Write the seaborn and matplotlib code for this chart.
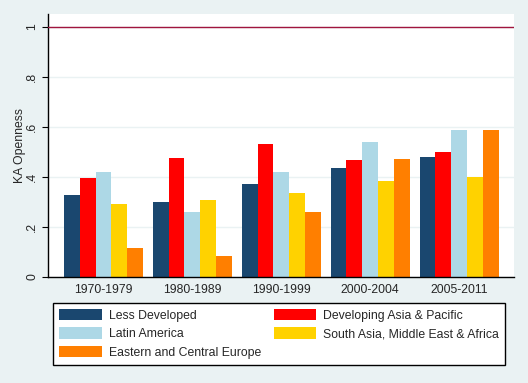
import matplotlib
matplotlib.use("Agg")
import matplotlib.pyplot as plt
import seaborn as sns
import pandas as pd
from matplotlib.patches import Patch

periods = ["1970-1979", "1980-1989", "1990-1999", "2000-2004", "2005-2011"]
regions = ["Less Developed", "Developing Asia & Pacific", "Latin America",
           "South Asia, Middle East & Africa", "Eastern and Central Europe"]
less_developed = [0.328, 0.300, 0.372, 0.436, 0.480]
developing_asia = [0.396, 0.476, 0.532, 0.468, 0.500]
latin_america = [0.420, 0.260, 0.420, 0.540, 0.588]
south_asia = [0.292, 0.308, 0.336, 0.384, 0.400]
eastern_europe = [0.116, 0.084, 0.260, 0.472, 0.588]
colors = ["#1A476F", "#FF0000", "#ADD8E6", "#FFD200", "#FF7F00"]

series = [less_developed, developing_asia, latin_america, south_asia, eastern_europe]
rows = []
for reg, vals in zip(regions, series):
    for p, v in zip(periods, vals):
        rows.append({"period": p, "region": reg, "value": v})
df = pd.DataFrame(rows)

sns.set_style("white")
plt.rcParams["font.family"] = ["Liberation Sans", "DejaVu Sans"]
bg = "#EAF2F3"
fig = plt.figure(figsize=(5.28, 3.83), dpi=100, facecolor=bg)
ax = fig.add_axes([48/528, 1-277/383, 466/528, 263/383])
ax.set_facecolor("white")

sns.barplot(data=df, x="period", y="value", hue="region", order=periods,
            hue_order=regions, palette=colors, saturation=1, width=0.888,
            ax=ax, legend=False, errorbar=None, linewidth=0, edgecolor="none")

ax.set_ylim(0, 1.052)
ax.set_xlim(-0.624, 4.618)
ax.set_yticks([0, 0.2, 0.4, 0.6, 0.8, 1.0])
ax.set_yticklabels(["0", ".2", ".4", ".6", ".8", "1"], rotation=90, va="center", fontsize=8.8)
ax.tick_params(axis="y", length=4, width=0.8, color="black", pad=3, left=True)
ax.tick_params(axis="x", length=0, labelsize=8.8, pad=5)
ax.yaxis.grid(True, color="#EAF2F3", linewidth=1)
ax.set_axisbelow(True)
ax.axhline(1.0, color="#A0153E", linewidth=1, zorder=3)
ax.set_xlabel("")
ax.set_ylabel("KA Openness", fontsize=8.8, labelpad=0)
for s in ["top", "right"]:
    ax.spines[s].set_visible(False)
for s in ["left", "bottom"]:
    ax.spines[s].set_color("black")
    ax.spines[s].set_linewidth(1)

order = [0, 2, 4, 1, 3]
handles = [Patch(facecolor=colors[i], edgecolor="none") for i in order]
labels = [regions[i] for i in order]
leg = fig.legend(handles, labels, ncol=2, loc="upper left",
                 bbox_to_anchor=(53/528, 1-364/383, 452/528, 61/383),
                 mode="expand", fontsize=8.8, frameon=True, fancybox=False,
                 framealpha=1, handlelength=3.5, handleheight=1.05,
                 handletextpad=0.55, labelspacing=0.45, borderpad=0.5,
                 borderaxespad=0, columnspacing=1.0)
leg.get_frame().set_edgecolor("black")
leg.get_frame().set_linewidth(1)
leg.get_frame().set_facecolor("white")

fig.savefig("out.png", dpi=100, facecolor=bg)
